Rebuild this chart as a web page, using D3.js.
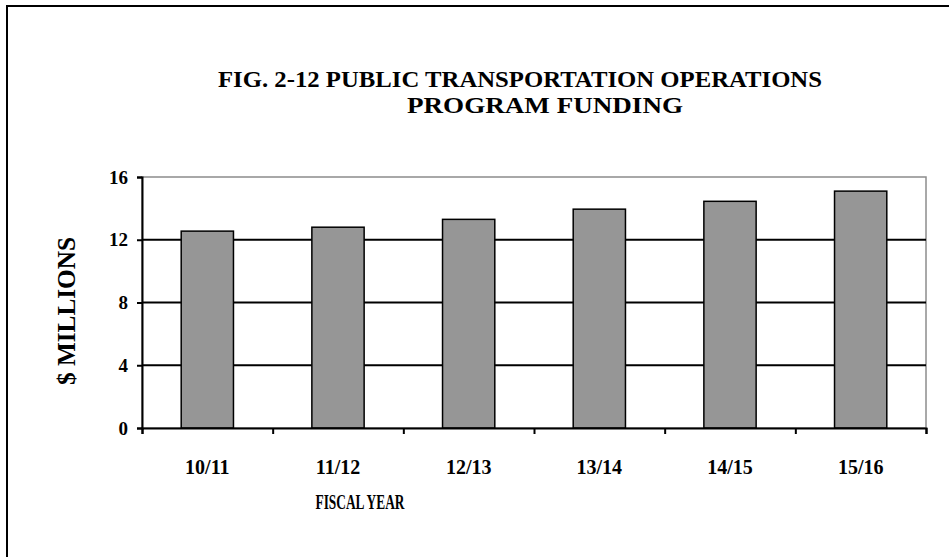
<!DOCTYPE html>
<html>
<head>
<meta charset="utf-8">
<script src="https://cdn.jsdelivr.net/npm/d3@7"></script>
<style>
  body { margin: 0; background: #fff; }
  text { font-family: "Liberation Serif", "Times New Roman", serif; font-weight: bold; fill: #000; }
</style>
</head>
<body>
<div id="chart"></div>
<script>
const FRAME_WIDTH = 949;
const FRAME_HEIGHT = 557;
const MARGINS = { left: 142, right: 23, top: 177, bottom: 129 };

// data
const years = ["10/11", "11/12", "12/13", "13/14", "14/15", "15/16"];
const funding = [12.55, 12.8, 13.3, 13.95, 14.45, 15.1];
const yTicks = [0, 4, 8, 12, 16];
const titleLines = ["FIG. 2-12  PUBLIC TRANSPORTATION  OPERATIONS", "PROGRAM FUNDING"];
const titleWidths = [604, 276];

const data = years.map((y, i) => ({ year: y, value: funding[i] }));

let plot_width = FRAME_WIDTH - MARGINS.left - MARGINS.right;
let plot_height = FRAME_HEIGHT - MARGINS.top - MARGINS.bottom;

let svg = d3.select("#chart").append("svg")
  .attr("width", FRAME_WIDTH)
  .attr("height", FRAME_HEIGHT);

// outer frame (runs off right and bottom)
svg.append("rect")
  .attr("x", 7).attr("y", 6)
  .attr("width", FRAME_WIDTH + 20).attr("height", FRAME_HEIGHT + 20)
  .attr("fill", "none")
  .attr("stroke", "#000")
  .attr("stroke-width", 2);

// title (condensed look like the original)
svg.selectAll(".title")
  .data(titleLines)
  .enter()
  .append("text")
  .attr("class", "title")
  .attr("x", (d, i) => i == 0 ? 520 : 545)
  .attr("y", (d, i) => 87 + i * 26)
  .attr("text-anchor", "middle")
  .attr("textLength", (d, i) => titleWidths[i])
  .attr("lengthAdjust", "spacingAndGlyphs")
  .style("font-size", "24px")
  .text(d => d);

let x = d3.scaleBand()
  .domain(years)
  .range([0, plot_width])
  .paddingInner(0.6)
  .paddingOuter(0.3);

let y = d3.scaleLinear()
  .domain([0, 16])
  .range([plot_height, 0]);

let g = svg.append("g")
  .attr("transform", "translate(" + MARGINS.left + "," + MARGINS.top + ")");

// plot area border (gray top / right)
g.append("rect")
  .attr("width", plot_width)
  .attr("height", plot_height)
  .attr("fill", "none")
  .attr("stroke", "#8c8c8c")
  .attr("stroke-width", 1.5);

// gridlines
g.selectAll(".grid")
  .data(yTicks.filter(t => t > 0 && t < 16))
  .enter()
  .append("line")
  .attr("x1", 0).attr("x2", plot_width)
  .attr("y1", d => y(d)).attr("y2", d => y(d))
  .attr("stroke", "#000")
  .attr("stroke-width", 2);

// bars
g.selectAll(".bar")
  .data(data)
  .enter()
  .append("rect")
  .attr("class", "bar")
  .attr("x", d => x(d.year))
  .attr("width", x.bandwidth())
  .attr("y", d => y(d.value))
  .attr("height", d => plot_height - y(d.value))
  .attr("fill", "#969696")
  .attr("stroke", "#000")
  .attr("stroke-width", 1.5);

// y axis
let yAxis = g.append("g")
  .call(d3.axisLeft(y).tickValues(yTicks).tickSize(5).tickPadding(9).tickFormat(d3.format("d")));
yAxis.select(".domain").attr("stroke", "#000").attr("stroke-width", 2);
yAxis.selectAll(".tick line").attr("stroke-width", 2);
yAxis.selectAll("text").style("font-size", "19px").style("font-family", "Liberation Serif");

// x axis: ticks on band boundaries
let xEdges = d3.scaleLinear().domain([0, years.length]).range([0, plot_width]);
let xAxis = g.append("g")
  .attr("transform", "translate(0," + plot_height + ")")
  .call(d3.axisBottom(xEdges).ticks(years.length).tickSize(6).tickFormat(""));
xAxis.select(".domain").attr("stroke", "#000").attr("stroke-width", 2);
xAxis.selectAll(".tick line").attr("stroke-width", 2);

// category labels
g.selectAll(".xlab")
  .data(years)
  .enter()
  .append("text")
  .attr("class", "xlab")
  .attr("x", d => x(d) + x.bandwidth() / 2)
  .attr("y", plot_height + 46)
  .attr("text-anchor", "middle")
  .style("font-size", "20px")
  .text(d => d);

// axis titles
svg.append("text")
  .attr("x", 360)
  .attr("y", 509)
  .attr("text-anchor", "middle")
  .attr("textLength", 89)
  .attr("lengthAdjust", "spacingAndGlyphs")
  .style("font-size", "21px")
  .text("FISCAL YEAR");

svg.append("text")
  .attr("transform", "translate(75,311) rotate(-90)")
  .attr("text-anchor", "middle")
  .attr("textLength", 148)
  .attr("lengthAdjust", "spacingAndGlyphs")
  .style("font-size", "26px")
  .text("$ MILLIONS");
</script>
</body>
</html>
